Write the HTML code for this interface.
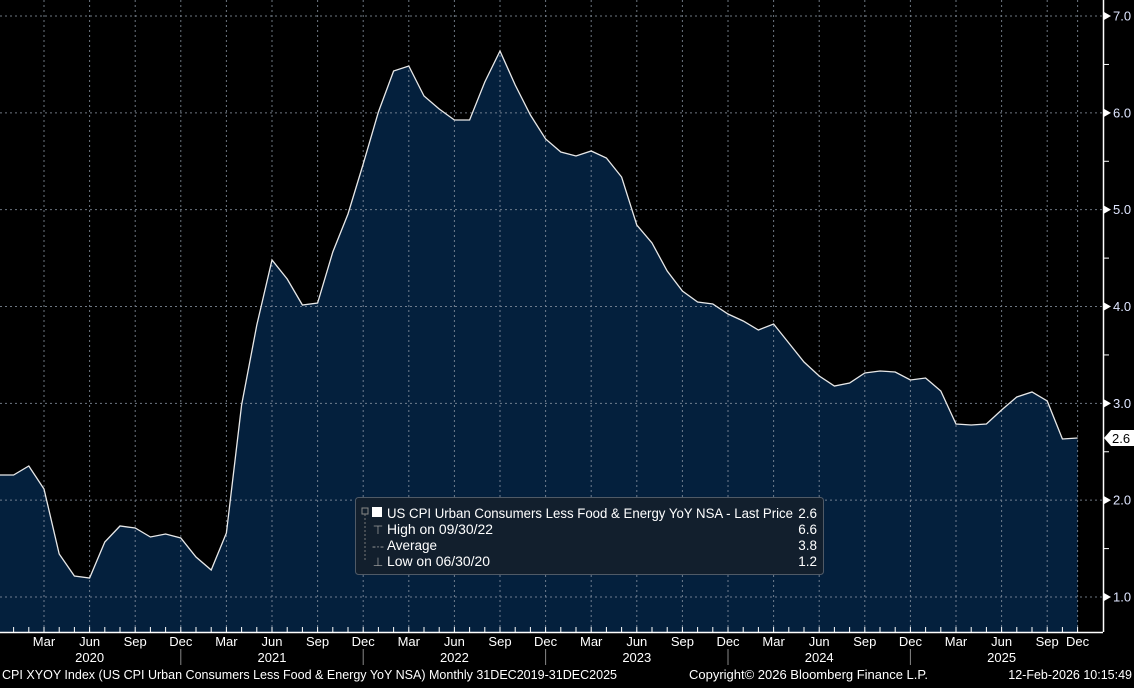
<!DOCTYPE html>
<html><head><meta charset="utf-8"><style>
body{margin:0;background:#000;width:1134px;height:683px;overflow:hidden;font-family:"Liberation Sans",sans-serif;}
svg text{font-family:"Liberation Sans",sans-serif;}
</style></head><body>
<svg id="s" width="1134" height="683" xmlns="http://www.w3.org/2000/svg">
<rect width="1134" height="683" fill="#000"/>
<path id="area" fill="#04203d" stroke="none"/>
<g id="grid" stroke="#8a95a3" stroke-width="1" stroke-dasharray="2,3" opacity="0.8"></g>
<polyline id="line" fill="none" stroke="#e8e8e8" stroke-width="1.3"/>
<line x1="1103.5" y1="0" x2="1103.5" y2="632" stroke="#fff" stroke-width="1.5"/>
<line x1="0" y1="632.5" x2="1103" y2="632.5" stroke="#fff" stroke-width="1.5"/>
<g id="axis" fill="#fff" font-size="13"></g>
<g>
<rect x="355.5" y="497.5" width="468" height="77" rx="3" fill="#121f2d" stroke="#505a66"/>
<rect x="372" y="507" width="10" height="10" fill="#fff"/>
<rect x="362" y="508" width="6" height="6" fill="none" stroke="#888"/>
<line x1="365" y1="514" x2="365" y2="562" stroke="#777" stroke-dasharray="2,2"/>
<text x="387" y="518" fill="#fff" font-size="13.5" textLength="406" lengthAdjust="spacingAndGlyphs">US CPI Urban Consumers Less Food &amp; Energy YoY NSA - Last Price</text>
<text x="817" y="518" fill="#fff" font-size="13.5" text-anchor="end">2.6</text>
<text x="378" y="534" fill="#999" font-size="12" text-anchor="middle">⊤</text>
<text x="387" y="534" fill="#fff" font-size="13.5" textLength="106" lengthAdjust="spacingAndGlyphs">High on 09/30/22</text>
<text x="817" y="534" fill="#fff" font-size="13.5" text-anchor="end">6.6</text>
<text x="378" y="550" fill="#999" font-size="12" text-anchor="middle">-·-</text>
<text x="387" y="550" fill="#fff" font-size="13.5">Average</text>
<text x="817" y="550" fill="#fff" font-size="13.5" text-anchor="end">3.8</text>
<text x="378" y="566" fill="#999" font-size="12" text-anchor="middle">⊥</text>
<text x="387" y="566" fill="#fff" font-size="13.5" textLength="103" lengthAdjust="spacingAndGlyphs">Low on 06/30/20</text>
<text x="817" y="566" fill="#fff" font-size="13.5" text-anchor="end">1.2</text>
</g>
<polygon points="1104,438 1111,430 1134,430 1134,446 1111,446" fill="#fff"/>
<text x="1112" y="443" fill="#000" font-size="13">2.6</text>
<text x="2" y="679" fill="#fff" font-size="12.5" textLength="615" lengthAdjust="spacingAndGlyphs">CPI XYOY Index (US CPI Urban Consumers Less Food &amp; Energy YoY NSA) Monthly 31DEC2019-31DEC2025</text>
<text x="689" y="679" fill="#fff" font-size="12.5" textLength="239" lengthAdjust="spacingAndGlyphs">Copyright© 2026 Bloomberg Finance L.P.</text>
<text x="1132" y="679" fill="#fff" font-size="12.5" text-anchor="end">12-Feb-2026 10:15:49</text>
</svg>
<script>
var ys=[475,475,466,489,554,576,578,542,526,528,537,534,538,
557,570,533,405,325,260,279,305,303,252,214,164,
112,71,66,96,109,120,120,82,51,85,115,139,
152,156,151,158,177,225,243,271,291,302,304,314,
321,330,324,343,362,376,386,383,373,371,372,380,
378,391,424,425,424,410,397,392,401,439,438];
function X(i){return -1.6+15.2*i;}
var pts=ys.map(function(y,i){return X(i).toFixed(1)+","+y;});
document.getElementById('line').setAttribute('points',pts.join(' '));
document.getElementById('area').setAttribute('d','M0,632 L'+pts.join(' L')+' L'+X(71).toFixed(1)+',632 Z');
var g=document.getElementById('grid'),ax=document.getElementById('axis'),ns="http://www.w3.org/2000/svg";
function el(p,t,a){var e=document.createElementNS(ns,t);for(var k in a)e.setAttribute(k,a[k]);p.appendChild(e);return e;}
for(var v=1;v<=7;v++){var y=597-(v-1)*96.83;
 el(g,'line',{x1:0,y1:y,x2:1103,y2:y});
 el(ax,'polygon',{points:"1104,"+(y-4)+" 1111,"+y+" 1104,"+(y+4),fill:"#fff"});
 var t=el(ax,'text',{x:1113,y:y+4.5,fill:"#dfe6ff"});t.textContent=v.toFixed(1);
 if(v<7){var h=y-48.4;el(ax,'line',{x1:1103,y1:h,x2:1109,y2:h,stroke:"#fff"});}
}
var mon=["Dec","Jan","Feb","Mar","Apr","May","Jun","Jul","Aug","Sep","Oct","Nov"];
for(var i=0;i<72;i++){
 var m=i%12; if(i==71)m=0; else if(i==70)m=11;
 var x=X(i);
 el(ax,'line',{x1:x,y1:632,x2:x,y2:627,stroke:"#fff"});
 if(m%3==0&&i>0){
  el(g,'line',{x1:x,y1:0,x2:x,y2:632});
  var t=el(ax,'text',{x:x,y:646,'text-anchor':'middle'});t.textContent=mon[m];
  if(m==0&&i<71)el(ax,'line',{x1:x,y1:649,x2:x,y2:665,stroke:"#888"});
  if(m==6){var t2=el(ax,'text',{x:x,y:662,'text-anchor':'middle'});t2.textContent=2020+Math.floor(i/12);}
 }
}
</script>
</body></html>
